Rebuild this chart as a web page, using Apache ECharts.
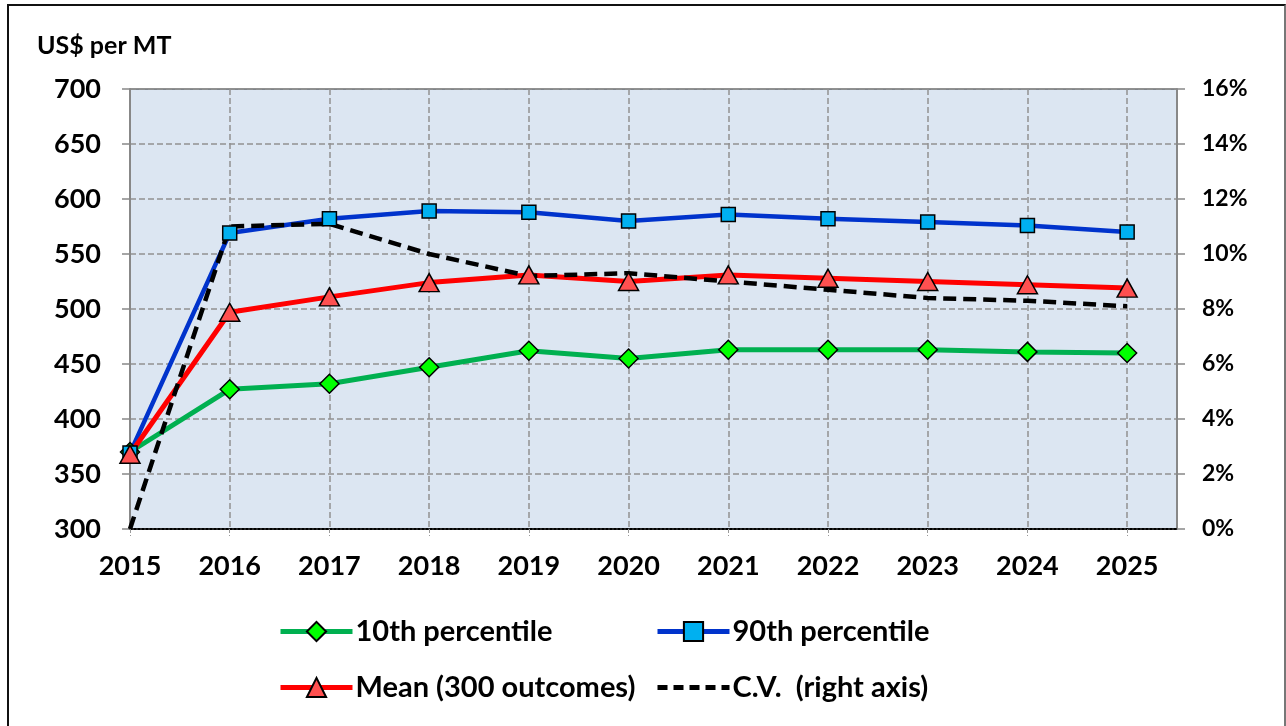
<!DOCTYPE html>
<html>
<head>
<meta charset="utf-8">
<script src="https://cdn.jsdelivr.net/npm/echarts@6/dist/echarts.min.js"></script>
<style>
  html, body { margin: 0; padding: 0; background: #fff; }
  #chart { position: absolute; left: 0; top: 0; width: 1286px; height: 726px; }
  #frame { position: absolute; left: 7px; top: 4px; width: 1275px; height: 740px;
           border: 2px solid #111; border-right-color: #777; pointer-events: none; }
</style>
</head>
<body>
<div id="chart"></div>
<div id="frame"></div>
<script>
// years on the x axis
var years = [2015, 2016, 2017, 2018, 2019, 2020, 2021, 2022, 2023, 2024, 2025];
// US$ per MT
var p10 = [370, 427, 432, 447, 462, 455, 463, 463, 463, 461, 460];
var p90 = [369, 569, 582, 589, 588, 580, 586, 582, 579, 576, 570];
var mean = [368, 497, 511, 524, 531, 525, 531, 528, 525, 522, 519];
// coefficient of variation (right axis, fraction)
var cv = [0.000, 0.110, 0.111, 0.100, 0.092, 0.093, 0.090, 0.087, 0.084, 0.083, 0.081];

var leftTicks = [300, 350, 400, 450, 500, 550, 600, 650, 700];

function pairs(vals) {
    var out = [];
    for (var i = 0; i < years.length; i++) out.push([years[i], vals[i]]);
    return out;
}

var font = 'Lato, "Open Sans", sans-serif';
var chart = echarts.init(document.getElementById('chart'));

//单项图例
function legendItem(name, left, top, lineType, hideSymbol) {
    var item = {
        data: [name], left: left, top: top, padding: 0,
        itemWidth: 72, itemHeight: 24, itemGap: 0,
        selectedMode: false,
        lineStyle: {width: 5, type: lineType || 'solid'},
        textStyle: {fontFamily: font, fontWeight: 'bold', fontSize: 29, color: '#000', padding: [0, 0, 0, -2]}
    };
    if (hideSymbol) item.itemStyle = {color: 'transparent', borderColor: 'transparent', borderWidth: 0};
    return item;
}

chart.setOption({
    animation: false,
    title: {
        text: 'US$ per MT', left: 32, top: 28,
        textStyle: {fontFamily: font, fontWeight: 'bold', fontSize: 25, color: '#000'}
    },
    grid: {
        left: 130, top: 89, right: 109, bottom: 197,
        show: true, backgroundColor: '#dce6f2', borderColor: '#222', borderWidth: 1
    },
    legend: [
        legendItem('10th percentile', 278, 617),
        legendItem('90th percentile', 655, 617),
        legendItem('Mean (300 outcomes)', 278, 673),
        legendItem('C.V.  (right axis)', 655, 673, [10, 6], true)
    ],
    xAxis: {
        type: 'value', min: 2015, max: 2025.5, interval: 1,
        axisLine: {show: true, lineStyle: {color: '#000', type: 'dotted', width: 2}},
        axisTick: {show: true, length: 7, lineStyle: {color: '#999', type: 'dashed'}},
        splitLine: {show: true, lineStyle: {color: '#919191', type: 'dashed', width: 1.5}},
        axisLabel: {
            showMaxLabel: false, margin: 24,
            fontFamily: font, fontWeight: 'bold', fontSize: 27, color: '#000',
            formatter: function (v) { return years.indexOf(v) >= 0 ? String(v) : ''; }
        }
    },
    yAxis: [{
        type: 'value', min: leftTicks[0], max: leftTicks[leftTicks.length - 1], interval: 50,
        axisLine: {show: true, lineStyle: {color: '#888', width: 2}},
        axisTick: {show: true, length: 8, lineStyle: {color: '#888', width: 1.5}},
        splitLine: {show: true, lineStyle: {color: '#919191', type: 'dashed', width: 1.5}},
        axisLabel: {margin: 29, fontFamily: font, fontWeight: 'bold', fontSize: 27, color: '#000'}
    }, {
        type: 'value', min: 0, max: 0.16, interval: 0.02, position: 'right',
        axisLine: {show: true, lineStyle: {color: '#888', width: 2}},
        axisTick: {show: true, length: 8, lineStyle: {color: '#888', width: 1.5}},
        splitLine: {show: false},
        axisLabel: {
            margin: 25, fontFamily: font, fontWeight: 'bold', fontSize: 23, color: '#000',
            formatter: function (v) { return Math.round(v * 100) + '%'; }
        }
    }],
    series: [{
        name: '10th percentile', type: 'line', data: pairs(p10),
        symbol: 'diamond', symbolSize: [19, 19],
        lineStyle: {color: '#00b050', width: 5},
        itemStyle: {color: '#00ff00', borderColor: '#000', borderWidth: 1.5}
    }, {
        name: '90th percentile', type: 'line', data: pairs(p90),
        symbol: 'rect', symbolSize: [14, 14],
        lineStyle: {color: '#0033cc', width: 4.5},
        itemStyle: {color: '#00b0f0', borderColor: '#000', borderWidth: 1.5}
    }, {
        name: 'Mean (300 outcomes)', type: 'line', data: pairs(mean),
        symbol: 'triangle', symbolSize: [20, 18],
        lineStyle: {color: '#ff0000', width: 5},
        itemStyle: {color: '#ff5050', borderColor: '#000', borderWidth: 1.5}
    }, {
        name: 'C.V.  (right axis)', type: 'line', yAxisIndex: 1, data: pairs(cv),
        symbol: 'none', z: 3,
        lineStyle: {color: '#000', width: 4.5, type: [13, 7]},
        itemStyle: {color: '#000'}
    }]
});
</script>
</body>
</html>
